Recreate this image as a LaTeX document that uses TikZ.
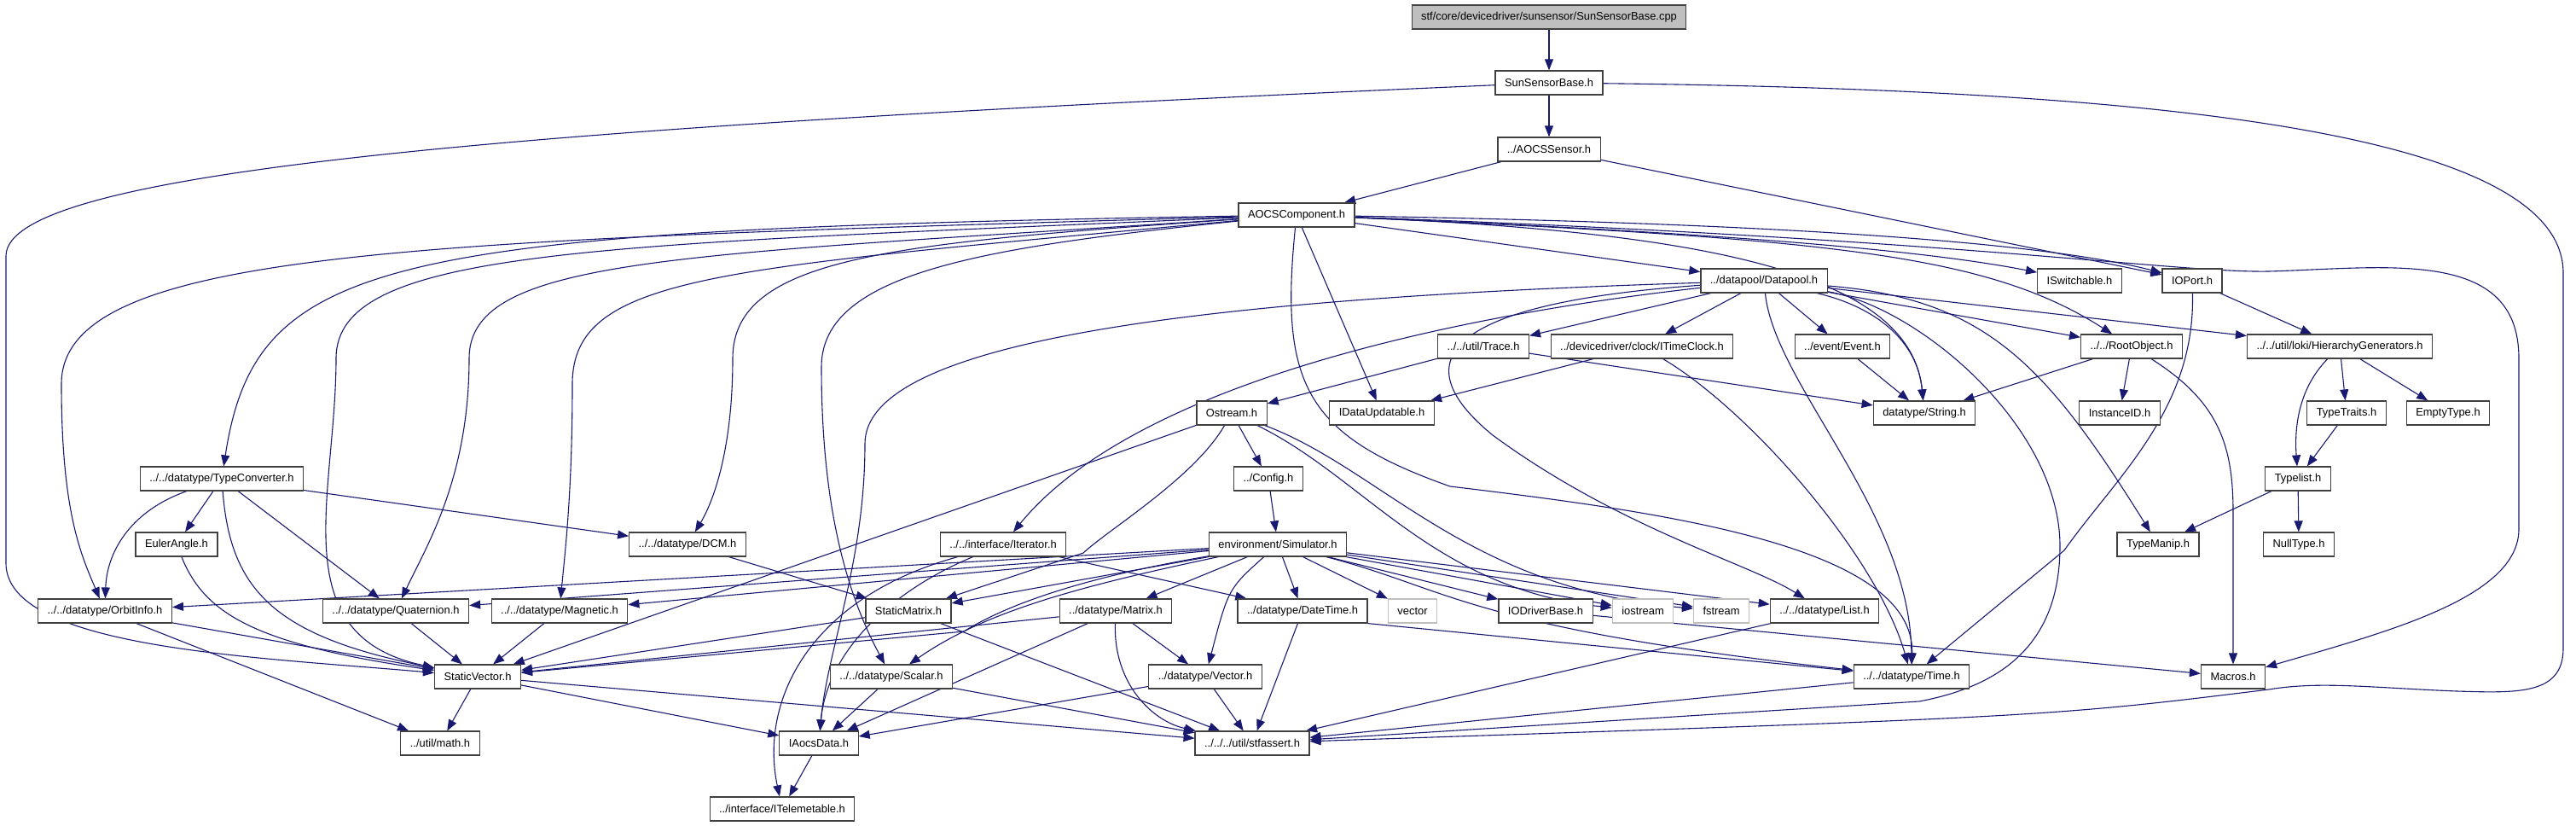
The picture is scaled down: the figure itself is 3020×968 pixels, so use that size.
\documentclass[tikz,border=0pt]{standalone}
\usepackage{fontspec}
\setmainfont{Liberation Sans}
\usetikzlibrary{arrows.meta, backgrounds}
\definecolor{edgeblue}{RGB}{25,25,112}
\definecolor{boxgray}{RGB}{191,191,191}
\definecolor{boxline}{RGB}{64,64,64}

\begin{document}
\begin{tikzpicture}[
    x=1pt, y=-1pt,
    hdr/.style={draw=boxline, line width=1.2pt, fill=white, minimum height=28pt, inner xsep=11pt, inner ysep=0pt, font=\fontsize{12.9}{14}\selectfont},
    srcfile/.style={hdr, fill=boxgray},
    sysfile/.style={hdr, draw=boxgray},
    inc/.style={draw=edgeblue, line width=1.1pt, -{Triangle[length=13pt, width=10pt]}}
]
    \useasboundingbox (0,0) rectangle (3020,968);

    % top of the include chain
    \node[srcfile] (root) at (1816,20) {stf/core/devicedriver/sunsensor/SunSensorBase.cpp};
    \node[hdr] (ssb) at (1816,97) {SunSensorBase.h};
    \node[hdr] (sensor) at (1816,175) {../AOCSSensor.h};
    \node[hdr] (comp) at (1520,252) {AOCSComponent.h};

    % row 4
    \node[hdr] (datapool) at (2068,329) {../datapool/Datapool.h};
    \node[hdr] (iswitch) at (2438,329) {ISwitchable.h};
    \node[hdr] (ioport) at (2570,329) {IOPort.h};

    % row 5
    \node[hdr] (trace) at (1739,406) {../../util/Trace.h};
    \node[hdr] (clock) at (1925,406) {../devicedriver/clock/ITimeClock.h};
    \node[hdr] (event) at (2160,406) {../event/Event.h};
    \node[hdr] (rootobj) at (2499,406) {../../RootObject.h};
    \node[hdr] (hiergen) at (2743,406) {../../util/loki/HierarchyGenerators.h};

    % row 6
    \node[hdr] (ostream) at (1444,484) {Ostream.h};
    \node[hdr] (idataupd) at (1620,484) {IDataUpdatable.h};
    \node[hdr] (string) at (2256,484) {datatype/String.h};
    \node[hdr] (instid) at (2485,484) {InstanceID.h};
    \node[hdr] (traits) at (2751,484) {TypeTraits.h};
    \node[hdr] (emptyt) at (2870,484) {EmptyType.h};

    % row 7
    \node[hdr] (typeconv) at (260,561) {../../datatype/TypeConverter.h};
    \node[hdr] (config) at (1487,561) {../Config.h};
    \node[hdr] (typelist) at (2694,561) {Typelist.h};

    % row 8
    \node[hdr] (euler) at (207,638) {EulerAngle.h};
    \node[hdr] (dcm) at (806,638) {../../datatype/DCM.h};
    \node[hdr] (iterator) at (1176,638) {../../interface/Iterator.h};
    \node[hdr] (sim) at (1498,638) {environment/Simulator.h};
    \node[hdr] (typemanip) at (2530,638) {TypeManip.h};
    \node[hdr] (nullt) at (2695,638) {NullType.h};

    % row 9
    \node[hdr] (orbit) at (123,716) {../../datatype/OrbitInfo.h};
    \node[hdr] (quat) at (464,716) {../../datatype/Quaternion.h};
    \node[hdr] (magn) at (656,716) {../../datatype/Magnetic.h};
    \node[hdr] (smatrix) at (1065,716) {StaticMatrix.h};
    \node[hdr] (matrix) at (1308,716) {../datatype/Matrix.h};
    \node[hdr] (datetime) at (1527,716) {../datatype/DateTime.h};
    \node[sysfile] (vector) at (1656,716) {vector};
    \node[hdr] (iodriver) at (1812,716) {IODriverBase.h};
    \node[sysfile] (iostream) at (1926,716) {iostream};
    \node[sysfile] (fstream) at (2018,716) {fstream};
    \node[hdr] (list) at (2139,716) {../../datatype/List.h};

    % row 10
    \node[hdr] (svector) at (560,793) {StaticVector.h};
    \node[hdr] (scalar) at (1045,793) {../../datatype/Scalar.h};
    \node[hdr] (vec) at (1413,793) {../datatype/Vector.h};
    \node[hdr] (time) at (2241,793) {../../datatype/Time.h};
    \node[hdr] (macros) at (2618,793) {Macros.h};

    % bottom rows
    \node[hdr] (math) at (516,871) {../util/math.h};
    \node[hdr] (iaocs) at (960,871) {IAocsData.h};
    \node[hdr] (assert) at (1468,871) {../../../util/stfassert.h};
    \node[hdr] (itelem) at (917,948) {../interface/ITelemetable.h};

    \begin{scope}[on background layer]
    % file, sensor
    \draw[inc] (root) -- (ssb);
    \draw[inc] (ssb) -- (sensor);
    \draw[inc] (ssb) .. controls (600,150) and (7,200) .. (7,300) -- (7,660) .. controls (7,760) and (300,770) .. (svector);
    \draw[inc] (ssb) .. controls (2500,105) and (3005,150) .. (3005,320) -- (3005,760) .. controls (3005,815) and (2950,812) .. (2880,810) .. controls (2780,806) and (2720,798) .. (2660,808) .. controls (2400,840) .. (assert);
    \draw[inc] (sensor) -- (comp);
    \draw[inc] (sensor) -- (ioport);

    % component, to the right
    \draw[inc] (comp) -- (datapool);
    \draw[inc] (comp) .. controls (2000,272) and (2250,292) .. (iswitch);
    \draw[inc] (comp) .. controls (2100,262) and (2400,285) .. (ioport);
    \draw[inc] (comp) .. controls (2150,280) and (2330,298) .. (rootobj);
    \draw[inc] (comp) .. controls (2000,272) and (2240,320) .. (string);
    \draw[inc] (comp) .. controls (2300,280) and (2550,320) .. (2660,318) .. controls (2800,314) and (2953,290) .. (2953,420) -- (2953,620) .. controls (2953,700) and (2800,740) .. (macros);
    \draw[inc] (comp) -- (idataupd);
    \draw[inc] (comp) .. controls (1500,450) and (1530,510) .. (1700,570) .. controls (1950,600) and (2245,640) .. (time);

    % component, to the left
    \draw[inc] (comp) .. controls (450,270) and (300,300) .. (typeconv);
    \draw[inc] (comp) .. controls (500,282) and (72,290) .. (72,450) .. controls (72,600) and (95,650) .. (orbit);
    \draw[inc] (comp) .. controls (700,288) and (394,290) .. (394,420) .. controls (394,580) and (330,745) .. (svector);
    \draw[inc] (comp) .. controls (800,300) and (550,300) .. (550,420) .. controls (550,560) and (500,640) .. (quat);
    \draw[inc] (comp) .. controls (850,315) and (671,320) .. (671,450) .. controls (671,580) and (662,650) .. (magn);
    \draw[inc] (comp) .. controls (1050,285) and (859,300) .. (859,420) .. controls (859,530) and (835,590) .. (dcm);
    \draw[inc] (comp) .. controls (1150,290) and (963,320) .. (963,430) .. controls (963,600) and (995,700) .. (scalar);

    % datapool
    \draw[inc] (datapool) -- (trace);
    \draw[inc] (datapool) -- (clock);
    \draw[inc] (datapool) -- (event);
    \draw[inc] (datapool) .. controls (2200,360) and (2248,400) .. (string);
    \draw[inc] (datapool) -- (rootobj);
    \draw[inc] (datapool) -- (hiergen);
    \draw[inc] (datapool) .. controls (2330,350) and (2400,430) .. (typemanip);
    \draw[inc] (datapool) .. controls (2250,360) and (2415,500) .. (2415,640) .. controls (2415,760) and (2340,805) .. (2250,822) -- (assert);
    \draw[inc] (datapool) .. controls (2080,450) and (2240,600) .. (time);
    \draw[inc] (datapool) .. controls (1700,355) and (1640,420) .. (1750,510) .. controls (1900,620) and (2050,660) .. (list);
    \draw[inc] (datapool) .. controls (1700,370) and (1330,450) .. (iterator);
    \draw[inc] (datapool) .. controls (1400,350) and (1014,400) .. (1014,520) .. controls (1014,660) and (970,760) .. (iaocs);

    % middle layer
    \draw[inc] (trace) -- (ostream);
    \draw[inc] (trace) -- (string);
    \draw[inc] (clock) -- (idataupd);
    \draw[inc] (clock) .. controls (2050,480) and (2200,650) .. (time);
    \draw[inc] (event) -- (string);
    \draw[inc] (rootobj) -- (string);
    \draw[inc] (rootobj) -- (instid);
    \draw[inc] (rootobj) .. controls (2600,470) and (2618,520) .. (2618,600) -- (macros);
    \draw[inc] (ioport) -- (hiergen);
    \draw[inc] (ioport) .. controls (2574,480) and (2480,560) .. (2420,645) -- (time);
    \draw[inc] (hiergen) .. controls (2700,450) and (2689,490) .. (typelist);
    \draw[inc] (hiergen) -- (traits);
    \draw[inc] (hiergen) -- (emptyt);
    \draw[inc] (traits) -- (typelist);
    \draw[inc] (typelist) -- (typemanip);
    \draw[inc] (typelist) -- (nullt);

    % ostream, simulator
    \draw[inc] (ostream) -- (config);
    \draw[inc] (ostream) -- (svector);
    \draw[inc] (ostream) .. controls (1400,560) and (1300,620) .. (1270,648) -- (smatrix);
    \draw[inc] (ostream) .. controls (1600,560) and (1680,690) .. (iostream);
    \draw[inc] (ostream) .. controls (1620,550) and (1720,690) .. (fstream);
    \draw[inc] (config) -- (sim);
    \draw[inc] (sim) -- (orbit);
    \draw[inc] (sim) -- (quat);
    \draw[inc] (sim) -- (magn);
    \draw[inc] (sim) -- (smatrix);
    \draw[inc] (sim) -- (matrix);
    \draw[inc] (sim) -- (datetime);
    \draw[inc] (sim) -- (vector);
    \draw[inc] (sim) -- (iodriver);
    \draw[inc] (sim) -- (iostream);
    \draw[inc] (sim) -- (fstream);
    \draw[inc] (sim) -- (list);
    \draw[inc] (sim) .. controls (1250,680) and (1170,715) .. (1130,740) -- (svector);
    \draw[inc] (sim) .. controls (1250,690) and (1150,720) .. (scalar);
    \draw[inc] (sim) .. controls (1440,690) .. (vec);
    \draw[inc] (sim) .. controls (1700,690) and (1720,735) .. (time);
    \draw[inc] (datetime.south east) -- (time);
    \draw[inc] (datetime) -- (assert);
    \draw[inc] (iterator) .. controls (1050,690) and (970,760) .. (iaocs);
    \draw[inc] (iterator) .. controls (950,700) and (890,820) .. (itelem);
    \draw[inc] (iterator) -- (datetime);

    % math types
    \draw[inc] (dcm) -- (smatrix);
    \draw[inc] (typeconv) -- (euler);
    \draw[inc] (typeconv) .. controls (150,600) and (125,650) .. (orbit);
    \draw[inc] (typeconv) .. controls (270,690) and (320,745) .. (svector);
    \draw[inc] (typeconv) -- (quat);
    \draw[inc] (typeconv) -- (dcm);
    \draw[inc] (euler) .. controls (240,720) and (300,755) .. (svector);
    \draw[inc] (orbit) -- (svector);
    \draw[inc] (orbit) -- (math);
    \draw[inc] (quat) -- (svector);
    \draw[inc] (magn) -- (svector);
    \draw[inc] (svector) -- (math);
    \draw[inc] (svector) -- (iaocs);
    \draw[inc] (svector) -- (assert);
    \draw[inc] (smatrix) -- (svector);
    \draw[inc] (smatrix) -- (assert);
    \draw[inc] (matrix) -- (svector);
    \draw[inc] (matrix) -- (iaocs);
    \draw[inc] (matrix) -- (vec);
    \draw[inc] (matrix) .. controls (1305,800) and (1350,845) .. (assert);
    \draw[inc] (scalar) -- (iaocs);
    \draw[inc] (scalar) -- (assert);
    \draw[inc] (vec) -- (iaocs);
    \draw[inc] (vec) -- (assert);
    \draw[inc] (iaocs) -- (itelem);
    \draw[inc] (list) -- (assert);
    \draw[inc] (time) -- (assert);
    \draw[inc] (iodriver) -- (macros);
    \end{scope}
\end{tikzpicture}
\end{document}
